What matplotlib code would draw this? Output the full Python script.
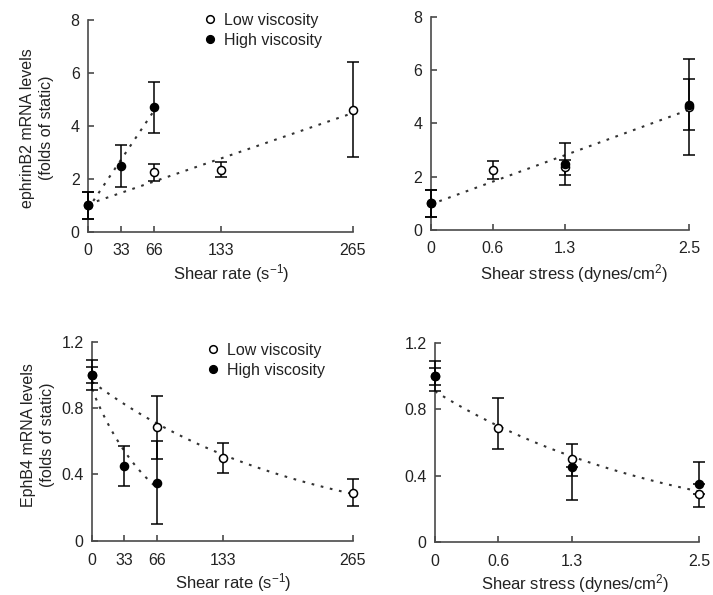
import numpy as np
import matplotlib
matplotlib.use("Agg")
import matplotlib.pyplot as plt
from matplotlib.lines import Line2D

plt.rcParams['font.family'] = ['Liberation Sans', 'DejaVu Sans']
plt.rcParams['mathtext.fontset'] = 'custom'
plt.rcParams['mathtext.rm'] = 'Liberation Sans'
plt.rcParams['mathtext.it'] = 'Liberation Sans:italic'
plt.rcParams['mathtext.bf'] = 'Liberation Sans:bold'

# ---------------- data ----------------
# ephrinB2 vs shear rate
rate_low = [0, 66, 133, 265]
eph_low = [1.0, 2.25, 2.35, 4.62]
eph_low_err = [0.5, 0.32, 0.28, 1.8]
rate_high = [0, 33, 66]
eph_high = [1.0, 2.48, 4.70]
eph_high_err = [0.5, 0.8, 0.95]

# ephrinB2 vs shear stress
stress_low = [0, 0.6, 1.3, 2.5]
stress_high = [0, 1.3, 2.5]

# EphB4 vs shear rate
b4_low = [1.0, 0.685, 0.50, 0.29]
b4_low_err = [0.09, 0.19, 0.09, 0.08]
b4_high = [1.0, 0.45, 0.35]
b4_high_err = [0.05, 0.12, 0.25]

# EphB4 vs shear stress (error bars as drawn in right panel: lower, upper)
b4s_low_lo = [0.09, 0.125, 0.10, 0.08]
b4s_low_hi = [0.09, 0.185, 0.09, 0.0]
b4s_high_lo = [0.05, 0.20, 0.0]
b4s_high_hi = [0.05, 0.0, 0.13]

rate_ticks = [0, 33, 66, 133, 265]
stress_ticks = [0, 0.6, 1.3, 2.5]
stress_ticklabels = ["0", "0.6", "1.3", "2.5"]
eph_yticks = [0, 2, 4, 6, 8]
b4_yticks = [0, 0.4, 0.8, 1.2]
b4_yticklabels = ["0", "0.4", "0.8", "1.2"]

labels = ["Low viscosity", "High viscosity"]

# ---------------- figure ----------------
W, H = 713, 595
fig = plt.figure(figsize=(W / 100, H / 100), dpi=100)

def add_ax(l, r, b, t):
    return fig.add_axes([l / W, 1 - b / H, (r - l) / W, (b - t) / H])

TXT = '#222222'
SP = '#4a4a4a'
FS_TICK = 11.5
FS_LAB = 12

def style(ax, xpad, ypad):
    for s in ['top', 'right']:
        ax.spines[s].set_visible(False)
    for s in ['left', 'bottom']:
        ax.spines[s].set_color(SP)
        ax.spines[s].set_linewidth(1.2)
    ax.tick_params(axis='both', direction='in', length=4.5, width=1.2,
                   color=SP, labelcolor=TXT, labelsize=FS_TICK)
    ax.tick_params(axis='x', pad=xpad)
    ax.tick_params(axis='y', pad=ypad)

def trend_lin(ax, x, y, xmax):
    p = np.polyfit(x, y, 1)
    xx = np.linspace(0, xmax, 50)
    ax.plot(xx, np.polyval(p, xx), linestyle=(0, (1.3, 3.2)), color='#333333',
            lw=1.5, zorder=2)

def trend_exp(ax, x, y, xmax):
    p = np.polyfit(x, np.log(y), 1)
    xx = np.linspace(0, xmax, 80)
    ax.plot(xx, np.exp(np.polyval(p, xx)), linestyle=(0, (1.3, 3.2)),
            color='#333333', lw=1.5, zorder=2)

def pts(ax, x, y, yerr, filled):
    ax.errorbar(x, y, yerr=yerr, fmt='none', ecolor='black', elinewidth=1.1,
                capsize=4.5, capthick=1.1, zorder=3, clip_on=False)
    ax.plot(x, y, linestyle='none', marker='o', ms=5.8,
            mfc='black' if filled else 'white', mec='black', mew=1.1,
            zorder=4, clip_on=False)

def legend(ax, x0, ytop):
    h = [Line2D([], [], linestyle='none', marker='o', ms=5.5, mfc='white',
                mec='black', mew=1.1),
         Line2D([], [], linestyle='none', marker='o', ms=5.5, mfc='black',
                mec='black', mew=1.1)]
    ax.legend(h, labels, loc='upper left', bbox_to_anchor=(x0 / W, 1 - ytop / H),
              bbox_transform=fig.transFigure, frameon=False, borderaxespad=0,
              borderpad=0, handlelength=0.9, handletextpad=0.4,
              labelspacing=0.3, fontsize=11.5, labelcolor=TXT)

# ---- top-left ----
ax1 = add_ax(88, 353, 232, 20)
style(ax1, 8, 6)
trend_lin(ax1, rate_low, eph_low, 265)
trend_lin(ax1, rate_high, eph_high, 66)
pts(ax1, rate_low, eph_low, eph_low_err, False)
pts(ax1, rate_high, eph_high, eph_high_err, True)
ax1.set_xlim(0, 265)
ax1.set_ylim(0, 8)
ax1.set_xticks(rate_ticks)
ax1.set_yticks(eph_yticks)
legend(ax1, 203, 13)

# ---- top-right ----
ax2 = add_ax(430.5, 689, 230, 16.7)
style(ax2, 8, 6)
trend_lin(ax2, stress_low + stress_high[1:], eph_low + eph_high[1:], 2.5)
pts(ax2, stress_low, eph_low, eph_low_err, False)
pts(ax2, stress_high, eph_high, eph_high_err, True)
ax2.set_xlim(0, 2.5)
ax2.set_ylim(0, 8)
ax2.set_xticks(stress_ticks)
ax2.set_xticklabels(stress_ticklabels)
ax2.set_yticks(eph_yticks)

# ---- bottom-left ----
ax3 = add_ax(92, 352.7, 540.7, 341.7)
style(ax3, 9, 6)
trend_exp(ax3, rate_low, b4_low, 265)
trend_exp(ax3, rate_high, b4_high, 66)
pts(ax3, rate_low, b4_low, b4_low_err, False)
pts(ax3, rate_high, b4_high, b4_high_err, True)
ax3.set_xlim(0, 265)
ax3.set_ylim(0, 1.2)
ax3.set_xticks(rate_ticks)
ax3.set_yticks(b4_yticks)
ax3.set_yticklabels(b4_yticklabels)
legend(ax3, 206, 343)

# ---- bottom-right ----
ax4 = add_ax(435, 699, 541.7, 343.3)
style(ax4, 9, 6)
trend_exp(ax4, stress_low + stress_high[1:], b4_low + b4_high[1:], 2.5)
pts(ax4, stress_low, b4_low, [b4s_low_lo, b4s_low_hi], False)
pts(ax4, stress_high, b4_high, [b4s_high_lo, b4s_high_hi], True)
ax4.set_xlim(0, 2.5)
ax4.set_ylim(0, 1.2)
ax4.set_xticks(stress_ticks)
ax4.set_xticklabels(stress_ticklabels)
ax4.set_yticks(b4_yticks)
ax4.set_yticklabels(b4_yticklabels)

# ---- axis labels ----
def ftext(x, y, s, fs=FS_LAB, **kw):
    fig.text(x / W, 1 - y / H, s, ha='center', va='center', color=TXT,
             fontsize=fs, **kw)

ftext(231, 274, r"Shear rate (s$^{-1}$)")
ftext(574, 274, r"Shear stress (dynes/cm$^{2}$)")
ftext(233, 583, r"Shear rate (s$^{-1}$)")
ftext(575, 584, r"Shear stress (dynes/cm$^{2}$)")
ftext(37, 128, "ephrinB2 mRNA levels\n(folds of static)", fs=11.5, rotation=90,
      multialignment='center', linespacing=1.4)
ftext(38, 435, "EphB4 mRNA levels\n(folds of static)", fs=11.5, rotation=90,
      multialignment='center', linespacing=1.4)

fig.savefig("out.png", dpi=100)
